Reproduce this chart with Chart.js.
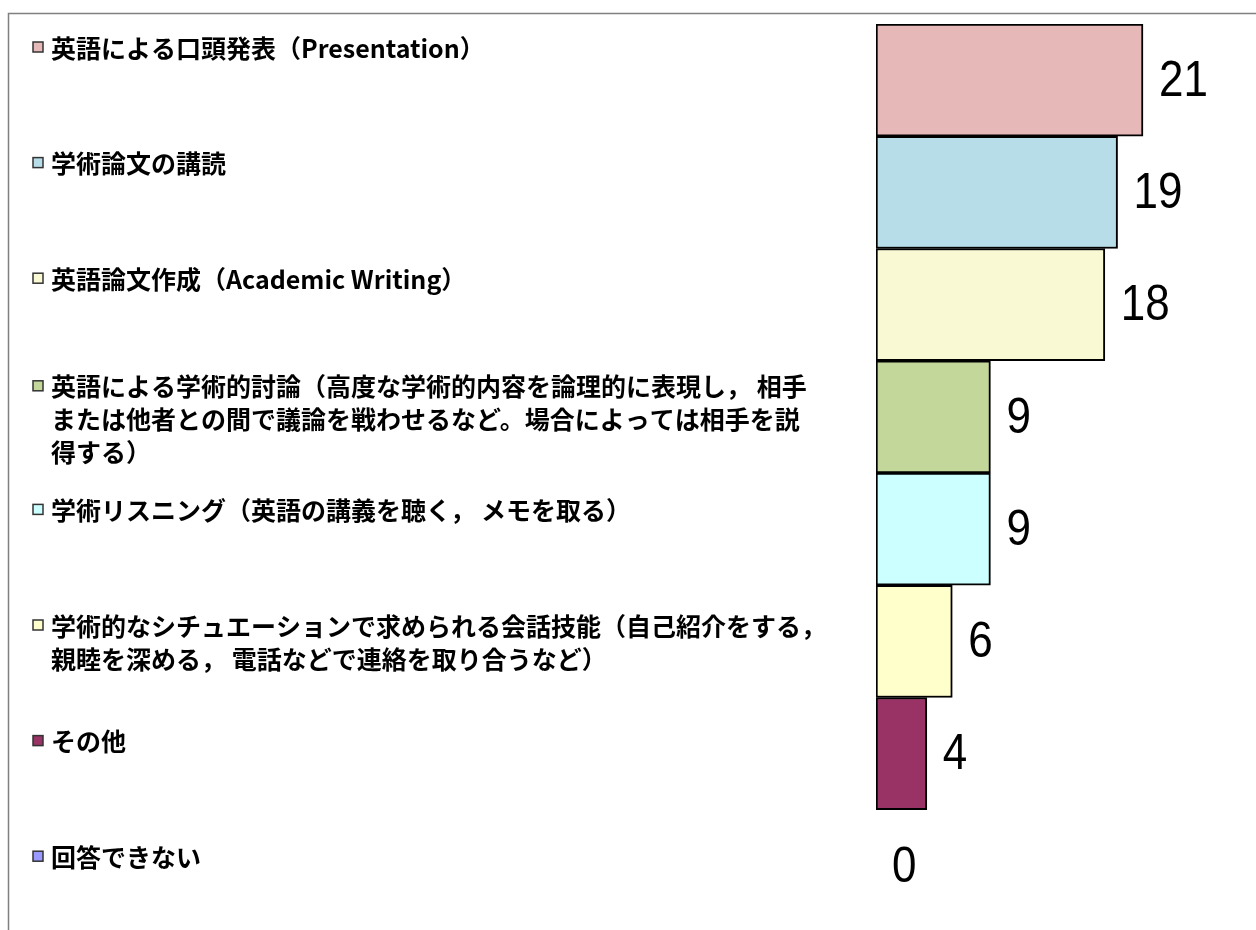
<!DOCTYPE html>
<html>
<head>
<meta charset="utf-8">
<script src="https://cdn.jsdelivr.net/npm/chart.js@4.4.1/dist/chart.umd.min.js"></script>
<style>
  html, body { margin: 0; padding: 0; background: #fff; }
  #wrap { width: 1256px; height: 930px; position: relative; }
</style>
</head>
<body>
<div id="wrap"><canvas id="skillChart"></canvas></div>
<script>
// カテゴリ（行ごとに折り返し）
const categories = [
    ['英語による口頭発表（Presentation）'],
    ['学術論文の講読'],
    ['英語論文作成（Academic Writing）'],
    ['英語による学術的討論（高度な学術的内容を論理的に表現し， 相手',
     'または他者との間で議論を戦わせるなど。場合によっては相手を説',
     '得する）'],
    ['学術リスニング（英語の講義を聴く， メモを取る）'],
    ['学術的なシチュエーションで求められる会話技能（自己紹介をする，',
     '親睦を深める， 電話などで連絡を取り合うなど）'],
    ['その他'],
    ['回答できない']
];
const counts = [21, 19, 18, 9, 9, 6, 4, 0];
const barColors = ['#E6B9B8', '#B7DDE8', '#F9F9D3', '#C4D79B', '#CCFFFF', '#FFFFCC', '#993366', '#9999FF'];

// 凡例の配置（Excel の凡例ボックス相当）
const legendTop = 47;
const legendStep = 115.6;
const lineHeight = 33;

// 枠線・凡例テキスト・値ラベルを描く
const sidePlugin = {
    id: 'sidePlugin',
    beforeDraw(chart) {
        const ctx = chart.ctx;
        ctx.save();
        ctx.strokeStyle = '#808080';
        ctx.lineWidth = 1.5;
        ctx.beginPath();
        ctx.moveTo(8.5, chart.height);
        ctx.lineTo(8.5, 13.5);
        ctx.lineTo(chart.width, 13.5);
        ctx.stroke();
        ctx.restore();
    },
    afterDraw(chart) {
        const ctx = chart.ctx;
        const yScale = chart.scales.y;
        const xScale = chart.scales.x;
        ctx.save();
        categories.forEach((lines, i) => {
            const firstY = legendTop + i * legendStep - Math.max(0, lines.length - 2) * 8;
            // マーカー
            ctx.fillStyle = barColors[i];
            ctx.fillRect(33, firstY - 5, 10, 10);
            ctx.strokeStyle = '#333';
            ctx.lineWidth = 1.5;
            ctx.strokeRect(33, firstY - 5, 10, 10);
            // テキスト
            ctx.fillStyle = '#000';
            ctx.font = 'bold 25px "Noto Sans CJK JP"';
            ctx.textAlign = 'left';
            ctx.textBaseline = 'middle';
            lines.forEach((line, k) => {
                ctx.fillText(line, 51, firstY + 1 + k * lineHeight);
            });
            // 値ラベル（細めの数字）
            const xEnd = xScale.getPixelForValue(counts[i]);
            const yMid = yScale.getPixelForValue(i);
            ctx.save();
            ctx.translate(xEnd + 16, yMid + 2);
            ctx.scale(0.88, 1);
            ctx.font = '50px "Liberation Sans", sans-serif';
            ctx.fillText(String(counts[i]), 0, 0);
            ctx.restore();
        });
        ctx.restore();
    }
};

new Chart(document.getElementById('skillChart'), {
    type: 'bar',
    data: {
        labels: categories,
        datasets: [{
            data: counts,
            backgroundColor: barColors,
            borderColor: '#000',
            borderWidth: 2,
            borderSkipped: false,
            barPercentage: 1,
            categoryPercentage: 1
        }]
    },
    options: {
        indexAxis: 'y',
        responsive: true,
        maintainAspectRatio: false,
        animation: false,
        layout: { padding: { left: 876, top: 24, bottom: 8, right: 24 } },
        plugins: { legend: { display: false }, tooltip: { enabled: false } },
        scales: {
            x: { display: false, min: 0, max: 28, grid: { display: false } },
            y: { display: false, grid: { display: false } }
        }
    },
    plugins: [sidePlugin]
});
</script>
</body>
</html>
